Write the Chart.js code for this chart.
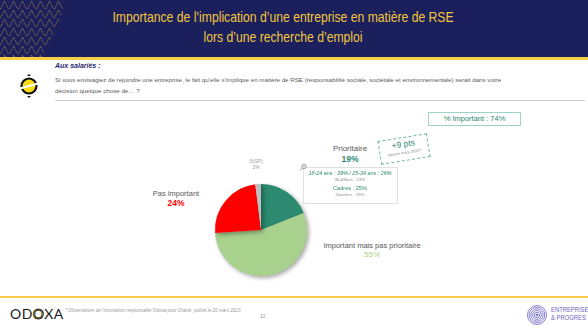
<!DOCTYPE html>
<html><head><meta charset="utf-8">
<script src="https://cdn.jsdelivr.net/npm/chart.js@4"></script>
<style>
html,body{margin:0;padding:0;}
body{width:588px;height:331px;position:relative;overflow:hidden;background:#fff;font-family:"Liberation Sans",Arial,sans-serif;}
.abs{position:absolute;white-space:nowrap;}
#header{left:0;top:0;width:588px;height:57px;background:#1b1f5c;}
#hline{left:0;top:57px;width:588px;height:3px;background:#f7cf47;}
.title{left:283px;transform:translateX(-50%) scaleX(0.84);text-align:center;color:#f2c63c;font-family:"Liberation Sans",sans-serif;font-size:14.5px;}
.c{transform:translateX(-50%);text-align:center;}
#chartwrap{left:209px;top:178px;width:106px;height:106px;}
</style></head><body>
<div id="header" class="abs"></div>
<svg class="abs" style="left:0;top:0" width="70" height="57">
 <defs>
  <pattern id="chev" width="9" height="9" patternUnits="userSpaceOnUse">
   <path d="M0.5 9 L4.5 1 L8.5 9" fill="none" stroke="#b99a45" stroke-width="0.9" stroke-dasharray="1.2 0.8"/>
  </pattern>
  <clipPath id="cp"><path d="M0 0 L66 0 Q58 30 42 57 L0 57 Z"/></clipPath>
 </defs>
 <rect x="0" y="0" width="70" height="57" fill="url(#chev)" clip-path="url(#cp)" opacity="0.8"/>
</svg>
<div class="abs title" style="top:9px">Importance de l’implication d’une entreprise en matière de RSE</div>
<div class="abs title" style="top:29px">lors d’une recherche d’emploi</div>
<div id="hline" class="abs"></div>

<svg class="abs" style="left:19px;top:73px" width="20" height="26">
 <circle cx="10" cy="13" r="7.5" fill="#f8dc16" stroke="#111" stroke-width="2.2"/>
 <path d="M8 3 L12 3 L10 1 Z" fill="#111"/>
 <path d="M8 23 L12 23 L10 25 Z" fill="#111"/>
 <line x1="1" y1="15.5" x2="19" y2="10.5" stroke="#fff" stroke-width="2"/>
</svg>
<div class="abs" style="left:55px;top:62px;font-size:7px;font-style:italic;font-weight:bold;color:#1f2a6e;">Aux salariés :</div>
<div class="abs" style="left:55px;top:74px;font-size:6.2px;color:#5a5a5a;line-height:11px;">Si vous envisagiez de rejoindre une entreprise, le fait qu’elle s’implique en matière de RSE (responsabilité sociale, sociétale et environnementale) serait dans votre<br>décision quelque chose de… ?</div>
<div class="abs" style="left:55px;top:100px;width:530px;height:1px;background:#d0d0d0;"></div>

<div class="abs" id="important" style="left:428px;top:112px;width:91px;height:12px;border:1px solid #9fd3c3;color:#2b8a6f;font-size:7.5px;line-height:12px;text-align:center;"></div>

<div id="chartwrap" class="abs"><canvas id="c" width="106" height="106"></canvas></div>

<div id="labels"></div>

<div class="abs" style="left:379px;top:137px;width:48px;height:22px;border:1px dashed #6fb9a3;transform:rotate(-9deg);text-align:center;">
 <div style="color:#2b8a6f;font-size:8.5px;line-height:11px;margin-top:1px;" id="evo"></div>
 <div style="color:#8a8a8a;font-size:4px;line-height:6px;font-style:italic;">depuis mars 2022*</div>
</div>

<div class="abs" style="left:303px;top:167px;width:93px;height:35px;border:1px solid #e0e0e0;"></div>
<svg class="abs" style="left:299px;top:163px" width="8" height="8"><circle cx="5" cy="3.5" r="2.3" fill="#d8d8d8" stroke="#9a9a9a" stroke-width="0.8"/><line x1="3.3" y1="5.2" x2="1" y2="7.5" stroke="#9a9a9a" stroke-width="1"/></svg>
<div id="detail"></div>

<div class="abs" style="left:0;top:296px;width:588px;height:2px;background:#f7cf47;"></div>
<div class="abs" style="left:10px;top:305px;font-family:Lato,sans-serif;font-size:14px;letter-spacing:0.5px;color:#1a1a1a;">OD<span style="color:#f3c300;-webkit-text-stroke:0.8px #1a1a1a;">O</span>XA</div>
<div class="abs" style="left:65px;top:308px;font-size:4.6px;font-style:italic;color:#9a9a9a;">* Observatoire de l’innovation responsable Odoxa pour Oracle, publié le 20 mars 2023</div>
<div class="abs" style="left:260px;top:313px;font-size:5px;color:#9a9a9a;">12</div>
<svg class="abs" style="left:526px;top:304px" width="22" height="22">
 <g fill="none" stroke="#7b74c9" stroke-width="0.9">
  <circle cx="11" cy="11" r="9.5"/><circle cx="11" cy="11" r="7.8"/><circle cx="11" cy="11" r="6.1"/><circle cx="11" cy="11" r="4.4"/><circle cx="11" cy="11" r="2.7"/>
 </g>
 <circle cx="11" cy="11" r="1.3" fill="#7b74c9"/>
</svg>
<div class="abs" style="left:551px;top:306px;font-family:'Liberation Sans',sans-serif;font-size:7.5px;line-height:8px;color:#6c64c0;transform:scaleX(0.78);transform-origin:left top;">ENTREPRISE<br>&amp; PROGRES</div>

<script>
const categories = ["Prioritaire", "Important mais pas prioritaire", "Pas important", "(NSP)"];
const values = [19, 55, 24, 2];
const colors = ["#2b8a6f", "#a9d18e", "#ff0000", "#bfbfbf"];
const importantTotal = 74;
const evolution = "+9 pts";
const detailLines = ["18-24 ans : 39% / 25-34 ans : 28%", "35-49ans : 13%", "Cadres : 25%", "Ouvriers : 15%"];

document.getElementById('important').textContent = "% Important : " + importantTotal + "%";
document.getElementById('evo').textContent = evolution;

const labelSpecs = [
 {x:350, y:144, nameColor:"#595959", nameSize:8, valColor:"#2b8a6f", valSize:8.5, bold:true},
 {x:372, y:241, nameColor:"#595959", nameSize:7.5, valColor:"#a9d18e", valSize:8, bold:false},
 {x:176, y:189, nameColor:"#595959", nameSize:7.5, valColor:"#ff0000", valSize:8.5, bold:true},
 {x:256, y:158, nameColor:"#a0a0a0", nameSize:5, valColor:"#a0a0a0", valSize:5, bold:false}
];
const lab = document.getElementById('labels');
categories.forEach((c,i)=>{
 const s = labelSpecs[i];
 const d = document.createElement('div');
 d.className = 'abs c';
 d.style.left = s.x + 'px'; d.style.top = s.y + 'px';
 d.innerHTML = '<div style="color:'+s.nameColor+';font-size:'+s.nameSize+'px;line-height:'+(s.nameSize*1.2)+'px">'+c+'</div>'+
   '<div style="color:'+s.valColor+';font-size:'+s.valSize+'px;line-height:'+(s.valSize*1.2)+'px;font-weight:'+(s.bold?'bold':'normal')+'">'+values[i]+'%</div>';
 lab.appendChild(d);
});

const det = document.getElementById('detail');
const detStyles = [
 {y:170, size:5.4, color:"#2b8a6f", italic:true},
 {y:177, size:4.4, color:"#8a8a8a", italic:true},
 {y:185, size:5.6, color:"#2b8a6f", italic:false},
 {y:192, size:4.4, color:"#8a8a8a", italic:true}
];
detailLines.forEach((t,i)=>{
 const s = detStyles[i];
 const d = document.createElement('div');
 d.className = 'abs c';
 d.style.cssText += 'left:350px;top:'+s.y+'px;font-size:'+s.size+'px;color:'+s.color+';font-style:'+(s.italic?'italic':'normal')+';';
 d.textContent = t;
 det.appendChild(d);
});

const shadowPlugin = {
 id:'shadow',
 beforeDatasetsDraw(chart){
  const ctx = chart.ctx; ctx.save();
  ctx.shadowColor = 'rgba(0,0,0,0.35)'; ctx.shadowBlur = 4; ctx.shadowOffsetX = 2; ctx.shadowOffsetY = 2;
 },
 afterDatasetsDraw(chart){ chart.ctx.restore(); }
};

new Chart(document.getElementById('c'), {
 type:'pie',
 data:{labels:categories, datasets:[{data:values, backgroundColor:colors, borderWidth:0}]},
 options:{
  responsive:false, animation:false,
  layout:{padding:{left:6,top:6,right:8,bottom:8}},
  plugins:{legend:{display:false}, tooltip:{enabled:false}}
 },
 plugins:[shadowPlugin]
});
</script>
</body></html>
